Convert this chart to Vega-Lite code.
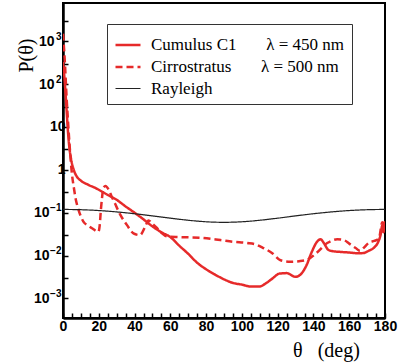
{
  "$schema": "https://vega.github.io/schema/vega-lite/v6.json",
  "width": 322,
  "height": 315,
  "autosize": {"type": "none"},
  "padding": {"left": 63, "top": 3, "right": 14, "bottom": 44},
  "background": "white",
  "config": {"view": {"stroke": "black", "strokeWidth": 2}},
  "data": {"values": [
    {"series": "Cumulus C1", "theta": 0, "P": 330},
    {"series": "Cumulus C1", "theta": 1, "P": 110},
    {"series": "Cumulus C1", "theta": 2, "P": 25},
    {"series": "Cumulus C1", "theta": 2.6, "P": 10},
    {"series": "Cumulus C1", "theta": 3.5, "P": 3.5},
    {"series": "Cumulus C1", "theta": 4.5, "P": 1.8},
    {"series": "Cumulus C1", "theta": 6, "P": 1.0},
    {"series": "Cumulus C1", "theta": 7.7, "P": 0.7},
    {"series": "Cumulus C1", "theta": 10, "P": 0.56},
    {"series": "Cumulus C1", "theta": 14, "P": 0.45},
    {"series": "Cumulus C1", "theta": 18, "P": 0.38},
    {"series": "Cumulus C1", "theta": 25, "P": 0.26},
    {"series": "Cumulus C1", "theta": 30, "P": 0.2},
    {"series": "Cumulus C1", "theta": 35, "P": 0.14},
    {"series": "Cumulus C1", "theta": 40, "P": 0.1},
    {"series": "Cumulus C1", "theta": 45, "P": 0.07},
    {"series": "Cumulus C1", "theta": 50, "P": 0.048},
    {"series": "Cumulus C1", "theta": 55, "P": 0.035},
    {"series": "Cumulus C1", "theta": 60, "P": 0.027},
    {"series": "Cumulus C1", "theta": 65, "P": 0.017},
    {"series": "Cumulus C1", "theta": 70, "P": 0.011},
    {"series": "Cumulus C1", "theta": 75, "P": 0.0068},
    {"series": "Cumulus C1", "theta": 80, "P": 0.0048},
    {"series": "Cumulus C1", "theta": 85, "P": 0.0036},
    {"series": "Cumulus C1", "theta": 90, "P": 0.0028},
    {"series": "Cumulus C1", "theta": 95, "P": 0.0023},
    {"series": "Cumulus C1", "theta": 100, "P": 0.0021},
    {"series": "Cumulus C1", "theta": 105, "P": 0.0019},
    {"series": "Cumulus C1", "theta": 110, "P": 0.0019},
    {"series": "Cumulus C1", "theta": 113, "P": 0.0022},
    {"series": "Cumulus C1", "theta": 117, "P": 0.0029},
    {"series": "Cumulus C1", "theta": 121, "P": 0.0038},
    {"series": "Cumulus C1", "theta": 125, "P": 0.0039},
    {"series": "Cumulus C1", "theta": 130, "P": 0.0032},
    {"series": "Cumulus C1", "theta": 133, "P": 0.0037},
    {"series": "Cumulus C1", "theta": 136, "P": 0.0058},
    {"series": "Cumulus C1", "theta": 139, "P": 0.012},
    {"series": "Cumulus C1", "theta": 142, "P": 0.021},
    {"series": "Cumulus C1", "theta": 144, "P": 0.024},
    {"series": "Cumulus C1", "theta": 146, "P": 0.019},
    {"series": "Cumulus C1", "theta": 148, "P": 0.014},
    {"series": "Cumulus C1", "theta": 150, "P": 0.0128},
    {"series": "Cumulus C1", "theta": 155, "P": 0.0122},
    {"series": "Cumulus C1", "theta": 160, "P": 0.0118},
    {"series": "Cumulus C1", "theta": 165, "P": 0.0113},
    {"series": "Cumulus C1", "theta": 168, "P": 0.0115},
    {"series": "Cumulus C1", "theta": 171, "P": 0.013},
    {"series": "Cumulus C1", "theta": 174, "P": 0.0155},
    {"series": "Cumulus C1", "theta": 176, "P": 0.02},
    {"series": "Cumulus C1", "theta": 177.5, "P": 0.03},
    {"series": "Cumulus C1", "theta": 178.5, "P": 0.05},
    {"series": "Cumulus C1", "theta": 179.2, "P": 0.035},
    {"series": "Cumulus C1", "theta": 179.6, "P": 0.06},
    {"series": "Cumulus C1", "theta": 180, "P": 0.045},
    {"series": "Cirrostratus", "theta": 0, "P": 1500},
    {"series": "Cirrostratus", "theta": 1, "P": 350},
    {"series": "Cirrostratus", "theta": 2, "P": 50},
    {"series": "Cirrostratus", "theta": 3, "P": 10},
    {"series": "Cirrostratus", "theta": 4, "P": 2.5},
    {"series": "Cirrostratus", "theta": 5, "P": 0.8},
    {"series": "Cirrostratus", "theta": 6, "P": 0.4},
    {"series": "Cirrostratus", "theta": 7, "P": 0.22},
    {"series": "Cirrostratus", "theta": 8.6, "P": 0.12},
    {"series": "Cirrostratus", "theta": 11.4, "P": 0.062},
    {"series": "Cirrostratus", "theta": 14, "P": 0.05},
    {"series": "Cirrostratus", "theta": 16, "P": 0.044},
    {"series": "Cirrostratus", "theta": 19.8, "P": 0.036},
    {"series": "Cirrostratus", "theta": 20.5, "P": 0.05},
    {"series": "Cirrostratus", "theta": 21.2, "P": 0.12},
    {"series": "Cirrostratus", "theta": 21.7, "P": 0.2},
    {"series": "Cirrostratus", "theta": 22.6, "P": 0.38},
    {"series": "Cirrostratus", "theta": 23.8, "P": 0.42},
    {"series": "Cirrostratus", "theta": 25.4, "P": 0.35},
    {"series": "Cirrostratus", "theta": 27, "P": 0.25},
    {"series": "Cirrostratus", "theta": 29, "P": 0.166},
    {"series": "Cirrostratus", "theta": 32, "P": 0.09},
    {"series": "Cirrostratus", "theta": 35.7, "P": 0.052},
    {"series": "Cirrostratus", "theta": 39.4, "P": 0.033},
    {"series": "Cirrostratus", "theta": 43, "P": 0.03},
    {"series": "Cirrostratus", "theta": 46, "P": 0.048},
    {"series": "Cirrostratus", "theta": 47.8, "P": 0.066},
    {"series": "Cirrostratus", "theta": 50, "P": 0.055},
    {"series": "Cirrostratus", "theta": 52.5, "P": 0.044},
    {"series": "Cirrostratus", "theta": 55, "P": 0.034},
    {"series": "Cirrostratus", "theta": 58, "P": 0.028},
    {"series": "Cirrostratus", "theta": 65, "P": 0.027},
    {"series": "Cirrostratus", "theta": 77, "P": 0.026},
    {"series": "Cirrostratus", "theta": 88, "P": 0.023},
    {"series": "Cirrostratus", "theta": 95, "P": 0.021},
    {"series": "Cirrostratus", "theta": 103, "P": 0.0196},
    {"series": "Cirrostratus", "theta": 108, "P": 0.018},
    {"series": "Cirrostratus", "theta": 112, "P": 0.015},
    {"series": "Cirrostratus", "theta": 117, "P": 0.0114},
    {"series": "Cirrostratus", "theta": 121.6, "P": 0.0078},
    {"series": "Cirrostratus", "theta": 127, "P": 0.0072},
    {"series": "Cirrostratus", "theta": 132, "P": 0.0074},
    {"series": "Cirrostratus", "theta": 136.5, "P": 0.008},
    {"series": "Cirrostratus", "theta": 142, "P": 0.0118},
    {"series": "Cirrostratus", "theta": 147.7, "P": 0.0196},
    {"series": "Cirrostratus", "theta": 150, "P": 0.022},
    {"series": "Cirrostratus", "theta": 153.3, "P": 0.024},
    {"series": "Cirrostratus", "theta": 157, "P": 0.023},
    {"series": "Cirrostratus", "theta": 160, "P": 0.019},
    {"series": "Cirrostratus", "theta": 163.6, "P": 0.015},
    {"series": "Cirrostratus", "theta": 166, "P": 0.013},
    {"series": "Cirrostratus", "theta": 168, "P": 0.015},
    {"series": "Cirrostratus", "theta": 171, "P": 0.02},
    {"series": "Cirrostratus", "theta": 174, "P": 0.022},
    {"series": "Cirrostratus", "theta": 176.6, "P": 0.025},
    {"series": "Cirrostratus", "theta": 178.5, "P": 0.06},
    {"series": "Cirrostratus", "theta": 179.3, "P": 0.04},
    {"series": "Cirrostratus", "theta": 180, "P": 0.065},
    {"series": "Rayleigh", "theta": 0, "P": 0.1194},
    {"series": "Rayleigh", "theta": 10, "P": 0.1175},
    {"series": "Rayleigh", "theta": 20, "P": 0.1124},
    {"series": "Rayleigh", "theta": 30, "P": 0.1044},
    {"series": "Rayleigh", "theta": 40, "P": 0.0947},
    {"series": "Rayleigh", "theta": 50, "P": 0.0843},
    {"series": "Rayleigh", "theta": 60, "P": 0.0746},
    {"series": "Rayleigh", "theta": 70, "P": 0.0667},
    {"series": "Rayleigh", "theta": 80, "P": 0.0615},
    {"series": "Rayleigh", "theta": 90, "P": 0.0597},
    {"series": "Rayleigh", "theta": 100, "P": 0.0615},
    {"series": "Rayleigh", "theta": 110, "P": 0.0667},
    {"series": "Rayleigh", "theta": 120, "P": 0.0746},
    {"series": "Rayleigh", "theta": 130, "P": 0.0843},
    {"series": "Rayleigh", "theta": 140, "P": 0.0947},
    {"series": "Rayleigh", "theta": 150, "P": 0.1044},
    {"series": "Rayleigh", "theta": 160, "P": 0.1124},
    {"series": "Rayleigh", "theta": 170, "P": 0.1175},
    {"series": "Rayleigh", "theta": 180, "P": 0.1194}
  ]},
  "resolve": {"axis": {"y": "independent"}},
  "layer": [
    {
      "mark": {"type": "line", "interpolate": "monotone", "clip": true},
      "encoding": {
        "x": {
          "field": "theta", "type": "quantitative",
          "scale": {"domain": [0, 180], "nice": false, "zero": false},
          "axis": {
            "values": [0,5,10,15,20,25,30,35,40,45,50,55,60,65,70,75,80,85,90,95,100,105,110,115,120,125,130,135,140,145,150,155,160,165,170,175,180],
            "labelExpr": "datum.value % 20 == 0 ? datum.label : ''",
            "grid": false,
            "tickSize": -5, "tickColor": "black", "tickWidth": 1.5,
            "domainColor": "black", "domainWidth": 2.5,
            "labelFont": "Liberation Sans", "labelFontWeight": "bold", "labelFontSize": 14, "labelColor": "black",
            "labelPadding": 6, "labelFlush": false, "labelOverlap": false,
            "title": "θ\u00a0\u00a0\u00a0(deg)",
            "titleFont": "Liberation Serif", "titleFontSize": 20, "titleFontWeight": "normal", "titleColor": "black",
            "titleX": 263, "titleY": 32, "titleAlign": "center", "titleBaseline": "middle"
          }
        },
        "y": {
          "field": "P", "type": "quantitative",
          "scale": {"type": "log", "domain": [0.00035, 7800], "nice": false},
          "axis": {
            "orient": "left",
            "values": [0.001, 0.003, 0.01, 0.03, 0.1, 0.3, 1, 3, 10, 30, 100, 300, 1000, 3000],
            "labelExpr": "abs(datum.value - 10) < 0.01 ? '10' : abs(datum.value - 1) < 0.001 ? '1' : ''",
            "grid": false,
            "tickSize": -5, "tickColor": "black", "tickWidth": 1.5,
            "domainColor": "black", "domainWidth": 2.5,
            "labelFont": "Liberation Sans", "labelFontWeight": "bold", "labelFontSize": 14, "labelColor": "black",
            "labelPadding": 3, "labelFlush": false, "labelOverlap": false,
            "title": "P(θ)",
            "titleFont": "Liberation Serif", "titleFontSize": 20, "titleFontWeight": "normal", "titleColor": "black",
            "titleX": -37, "titleY": 52, "titleAlign": "center", "titleBaseline": "middle", "titleAngle": -90
          }
        },
        "color": {
          "field": "series", "type": "nominal",
          "scale": {"domain": ["Cumulus C1", "Cirrostratus", "Rayleigh"], "range": ["#e62a2a", "#e62a2a", "#222222"]},
          "legend": {
            "orient": "none", "legendX": 44, "legendY": 21,
            "title": null,
            "strokeColor": "#333333", "fillColor": "white", "padding": 7,
            "symbolType": "stroke", "symbolSize": 625,
            "labelFont": "Liberation Serif", "labelFontSize": 17, "labelColor": "black", "labelOffset": 9, "labelLimit": 400,
            "rowPadding": -5.5,
            "labelExpr": "datum.label == 'Cumulus C1' ? 'Cumulus C1\u00a0\u00a0\u00a0\u00a0\u00a0\u00a0\u00a0λ = 450 nm\u00a0' : datum.label == 'Cirrostratus' ? 'Cirrostratus\u00a0\u00a0\u00a0\u00a0\u00a0\u00a0\u00a0λ = 500 nm\u00a0' : 'Rayleigh'"
          }
        },
        "strokeDash": {
          "field": "series", "type": "nominal",
          "scale": {"domain": ["Cumulus C1", "Cirrostratus", "Rayleigh"], "range": [[1, 0], [7, 4], [1, 0]]}
        },
        "strokeWidth": {
          "field": "series", "type": "nominal",
          "scale": {"type": "ordinal", "domain": ["Cumulus C1", "Cirrostratus", "Rayleigh"], "range": [2.5, 2.5, 1.2]}
        }
      }
    },
    {
      "mark": {"type": "point", "opacity": 0},
      "encoding": {
        "y": {
          "field": "P", "type": "quantitative",
          "scale": {"type": "log", "domain": [0.00035, 7800], "nice": false},
          "axis": {
            "orient": "left",
            "values": [0.001, 0.01, 0.1, 100, 1000],
            "labelExpr": "datum.value < 1 ? '\u2212' + abs(round(log(datum.value)/LN10)) : '' + round(log(datum.value)/LN10)",
            "grid": false, "ticks": false, "domain": false, "title": null,
            "labelFont": "Liberation Sans", "labelFontWeight": "bold", "labelFontSize": 10, "labelColor": "black",
            "labelPadding": 2, "labelFlush": false, "labelOverlap": false, "labelOffset": -5
          }
        }
      }
    },
    {
      "mark": {"type": "point", "opacity": 0},
      "encoding": {
        "y": {
          "field": "P", "type": "quantitative",
          "scale": {"type": "log", "domain": [0.00035, 7800], "nice": false},
          "axis": {
            "orient": "left",
            "values": [100, 1000],
            "labelExpr": "'10'",
            "grid": false, "ticks": false, "domain": false, "title": null,
            "labelFont": "Liberation Sans", "labelFontWeight": "bold", "labelFontSize": 14, "labelColor": "black",
            "labelPadding": 9, "labelFlush": false, "labelOverlap": false
          }
        }
      }
    },
    {
      "mark": {"type": "point", "opacity": 0},
      "encoding": {
        "y": {
          "field": "P", "type": "quantitative",
          "scale": {"type": "log", "domain": [0.00035, 7800], "nice": false},
          "axis": {
            "orient": "left",
            "values": [0.001, 0.01, 0.1],
            "labelExpr": "'10'",
            "grid": false, "ticks": false, "domain": false, "title": null,
            "labelFont": "Liberation Sans", "labelFontWeight": "bold", "labelFontSize": 14, "labelColor": "black",
            "labelPadding": 14, "labelFlush": false, "labelOverlap": false
          }
        }
      }
    }
  ]
}
